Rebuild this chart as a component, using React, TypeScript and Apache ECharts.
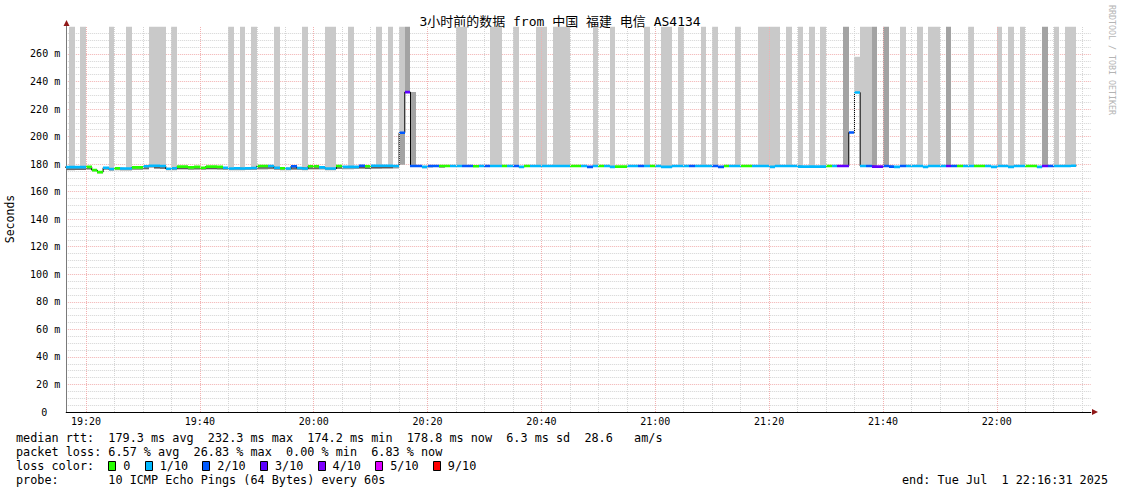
import React, { useEffect, useRef } from "react";
import * as echarts from "echarts";

// ---------- data ----------
const TITLE = "3小时前的数据 from 中国 福建 电信 AS4134";
const GRAPH_START = "19:16:31";
const GRAPH_END = "22:16:31";
const FIRST_BIN = "19:16"; // one value per minute from here

// median RTT (ms) per minute, 19:16 .. 22:13
const medianMs = [
  177.8, 177.8, 177.8, 177.8, 178.0, 175.6, 174.2, 177.4, 176.4, 177.0,
  176.8, 176.8, 177.6, 177.6, 178.4, 178.8, 178.8, 178.6, 176.6, 177.0,
  178.2, 178.2, 177.6, 178.0, 177.4, 178.2, 178.2, 178.0, 177.4, 176.8,
  177.0, 176.8, 177.0, 177.2, 178.6, 178.6, 178.6, 177.4, 177.0, 176.8,
  178.4, 177.2, 176.8, 178.4, 178.4, 177.6, 176.8, 176.8, 178.6, 178.0,
  178.0, 178.0, 178.8, 178.4, 178.8, 178.8, 178.8, 178.8, 178.6, 202.8,
  232.3, 178.6, 178.6, 178.0, 178.6, 178.6, 178.6, 178.6, 178.6, 178.6,
  178.6, 178.6, 178.4, 178.6, 178.6, 178.6, 178.6, 178.6, 178.6, 178.6,
  178.0, 178.6, 178.6, 178.6, 178.6, 178.6, 178.6, 178.6, 178.6, 178.6,
  178.6, 178.6, 178.0, 178.6, 178.6, 178.6, 178.0, 178.2, 178.2, 178.6,
  178.6, 178.6, 178.6, 178.6, 178.6, 178.0, 178.0, 178.6, 178.6, 178.6,
  178.6, 178.6, 178.6, 178.6, 178.6, 178.0, 178.6, 178.6, 178.6, 178.6,
  178.6, 178.6, 178.6, 178.6, 178.0, 178.6, 178.6, 178.6, 178.6, 178.2,
  178.2, 178.2, 178.2, 178.2, 178.6, 178.6, 178.6, 178.6, 203.0, 232.0,
  178.6, 178.6, 178.2, 178.2, 178.6, 178.2, 178.0, 178.6, 178.6, 178.6,
  178.6, 178.0, 178.6, 178.6, 178.6, 178.6, 178.6, 178.6, 178.6, 178.6,
  178.6, 178.6, 178.6, 178.0, 178.6, 178.6, 178.0, 178.6, 178.6, 178.6,
  178.6, 178.0, 178.6, 178.6, 178.6, 178.6, 178.6, 178.8,
];

// lost pings out of 10, per minute, 19:16 .. 22:13
const lossTenths = [
  1, 1, 1, 1, 0, 0, 0, 1, 1, 0,
  1, 1, 0, 0, 1, 1, 1, 1, 1, 1,
  0, 0, 0, 0, 0, 0, 0, 0, 1, 1,
  1, 1, 1, 1, 0, 0, 1, 1, 0, 1,
  2, 1, 1, 0, 0, 1, 1, 1, 0, 1,
  1, 1, 2, 0, 1, 1, 1, 1, 1, 2,
  3, 2, 2, 1, 2, 2, 0, 0, 1, 1,
  2, 2, 0, 1, 2, 1, 1, 0, 1, 2,
  1, 0, 1, 1, 1, 1, 1, 1, 1, 0,
  0, 1, 2, 1, 0, 1, 1, 0, 0, 1,
  1, 2, 1, 0, 1, 1, 1, 1, 1, 1,
  2, 1, 1, 1, 2, 2, 0, 1, 1, 0,
  0, 1, 1, 1, 1, 1, 1, 1, 1, 1,
  1, 1, 1, 1, 0, 1, 3, 3, 2, 1,
  1, 2, 3, 3, 2, 2, 1, 2, 1, 1,
  1, 1, 1, 1, 1, 3, 2, 0, 1, 1,
  0, 0, 1, 1, 1, 1, 1, 1, 1, 0,
  0, 1, 3, 2, 1, 1, 1, 1,
];

// lowest ping (ms) per minute, 19:16 .. 20:14 (smoke under the median)
const lowPingMs = [
  175.6, 175.6, 175.8, 175.8, 176.0, 174.8, 173.4, 175.8, 175.2, 175.6,
  175.4, 175.4, 175.8, 175.8, 176.0, 177.4, 176.6, 176.4, 175.6, 175.6,
  176.0, 176.0, 175.8, 176.0, 175.8, 176.0, 176.0, 176.0, 175.8, 175.6,
  175.6, 175.6, 175.8, 175.8, 176.0, 176.0, 176.2, 175.8, 175.6, 175.6,
  175.8, 175.8, 175.6, 176.0, 176.0, 176.0, 175.6, 175.6, 176.4, 176.2,
  176.2, 176.4, 176.6, 176.4, 176.6, 176.6, 176.8, 176.8, 176.8,
];

// minutes where one ping was off the top of the scale (light smoke to the top)
const offscaleOne = [
  "19:17", "19:19", "19:24", "19:27", "19:31", "19:32", "19:33", "19:35",
  "19:45", "19:47", "19:49", "19:53", "19:58", "20:02", "20:03", "20:06",
  "20:11", "20:13", "20:15", "20:25", "20:26", "20:31", "20:32", "20:35",
  "20:39", "20:40", "20:42", "20:43", "20:44", "20:49", "20:52", "20:58",
  "21:01", "21:02", "21:04", "21:08", "21:10", "21:14", "21:18", "21:19",
  "21:20", "21:21", "21:23", "21:25", "21:27", "21:29", "21:36", "21:37",
  "21:43", "21:46", "21:48", "21:49", "21:55", "22:00", "22:02", "22:04",
  "22:10", "22:12", "22:13",
];
// minutes where two pings were off the top of the scale (darker smoke)
const offscaleTwo = ["20:16", "21:33", "21:38", "21:40", "21:51", "22:08"];

// other smoke: [minute, from ms, to ms, shade 1 light / 2 medium]
const extraSmoke: [string, number, number, number][] = [
  ["20:15", 179.6, 202.8, 2],
  ["20:17", 178.6, 232.3, 2],
  ["20:19", 177.0, 178.0, 2],
  ["20:20", 177.6, 178.6, 2],
  ["20:22", 177.2, 178.6, 2],
  ["21:35", 232.0, 258.0, 1],
];

const Y_MAX = 280;
const Y_STEP = 20;
const xLabelTimes = ["19:20", "19:40", "20:00", "20:20", "20:40", "21:00", "21:20", "21:40", "22:00"];

const lossLabels = ["0", "1/10", "2/10", "3/10", "4/10", "5/10", "9/10"];
const lossLabelTenths = [0, 1, 2, 3, 4, 5, 9];
const lossColors = ["#26ff00", "#00b8ff", "#0059ff", "#5e00ff", "#7e00ff", "#dd00ff", "#ff0000"];

const statLines = [
  "median rtt:  179.3 ms avg  232.3 ms max  174.2 ms min  178.8 ms now  6.3 ms sd  28.6   am/s",
  "packet loss: 6.57 % avg  26.83 % max  0.00 % min  6.83 % now",
];
const lossLineLabel = "loss color:";
const probeLine = "probe:       10 ICMP Echo Pings (64 Bytes) every 60s";
const endLine = "end: Tue Jul  1 22:16:31 2025";
const creditText = "RRDTOOL / TOBI OETIKER";
const yName = "Seconds";

// ---------- helpers ----------
const FONT = "'DejaVu Sans Mono', 'Liberation Mono', monospace";
const TITLE_FONT = "'DejaVu Sans Mono', 'Noto Sans CJK SC', monospace";
const toMin = (s: string) => {
  const p = s.split(":").map(Number);
  return (p[0] - 19) * 60 + p[1] + (p[2] || 0) / 60;
};
const fmtMin = (v: number) => {
  const h = 19 + Math.floor(v / 60);
  const m = Math.round(v % 60);
  return `${h}:${m < 10 ? "0" : ""}${m}`;
};
const lossColor = (n: number) => {
  const idx = lossLabelTenths.indexOf(n);
  return lossColors[idx >= 0 ? idx : 0];
};
const SHADES: Record<number, string> = { 1: "#c9c9c9", 2: "#a3a3a3", 3: "#9d9d9d" };

const T0 = toMin(FIRST_BIN);
const medianAt = (t: string) => medianMs[Math.round(toMin(t) - T0)];

function monoRuns(str: string) {
  const out: { col: number; text: string }[] = [];
  const re = /\S+(?: \S+)*/g;
  let m: RegExpExecArray | null;
  while ((m = re.exec(str))) out.push({ col: m.index, text: m[0] });
  return out;
}

export default function App() {
  const ref = useRef<HTMLDivElement>(null);

  useEffect(() => {
    if (!ref.current) return;
    const chart = echarts.init(ref.current, undefined, { renderer: "svg" });

    // smoke items: [t0, t1, lo, hi, shade]
    const smoke: number[][] = [];
    offscaleOne.forEach((t) => smoke.push([toMin(t), toMin(t) + 1, medianAt(t), Y_MAX, 1]));
    offscaleTwo.forEach((t) => smoke.push([toMin(t), toMin(t) + 1, medianAt(t), Y_MAX, 2]));
    extraSmoke.forEach(([t, lo, hi, s]) => smoke.push([toMin(t), toMin(t) + 1, lo, hi, s]));
    lowPingMs.forEach((lo, i) => smoke.push([T0 + i, T0 + i + 1, lo, medianMs[i], 3]));

    const medianItems = medianMs.map((v, i) => [T0 + i, T0 + i + 1, v, lossTenths[i]]);
    const stepPts = medianMs.map((v, i) => [T0 + i, v]);
    stepPts.push([T0 + medianMs.length, medianMs[medianMs.length - 1]]);

    const xMin = toMin(GRAPH_START);
    const xMax = toMin(GRAPH_END);
    const gridMarks: any[] = [];
    for (let v = Math.ceil(xMin / 5) * 5; v < xMax; v += 5) {
      gridMarks.push({
        xAxis: v,
        lineStyle: { color: v % 20 === 0 ? "#f2b0b0" : "#d4d4d4", type: [1, 1], width: 1 },
      });
    }

    const CW = 11.8 * 0.6021;
    const X0 = 16;
    const graphic: any[] = [];
    const txt = (text: string, x: number, y: number, extra: any = {}) => ({
      type: "text",
      x,
      y,
      silent: true,
      style: {
        text,
        fontFamily: FONT,
        fontSize: 11.8,
        fill: "#000",
        textAlign: "left",
        align: "left",
        textVerticalAlign: "middle",
        verticalAlign: "middle",
        ...extra,
      },
    });
    const monoLine = (str: string, x0: number, y: number) =>
      monoRuns(str).forEach((r) => graphic.push(txt(r.text, x0 + r.col * CW, y)));

    graphic.push(
      txt(TITLE, 560, 21.5, { fontFamily: TITLE_FONT, fontSize: 13, textAlign: "center", align: "center" })
    );
    graphic.push({
      ...txt(yName, 10, 219, { fontSize: 11.5, textAlign: "center", align: "center" }),
      rotation: Math.PI / 2,
    });
    graphic.push({
      ...txt(creditText, 1111.5, 5, { fontSize: 8.3, fill: "#b4b4b4" }),
      rotation: -Math.PI / 2,
    });
    monoLine(statLines[0], X0, 438);
    monoLine(statLines[1], X0, 452);
    monoLine(lossLineLabel, X0, 466);
    let cursor = X0 + 13 * CW;
    lossLabels.forEach((lab, i) => {
      graphic.push({
        type: "rect",
        silent: true,
        shape: { x: Math.round(cursor) + 0.5, y: 461.5, width: 7, height: 9 },
        style: { fill: lossColors[i], stroke: "#000", lineWidth: 1 },
      });
      const tx = cursor + 15;
      graphic.push(txt(lab, tx, 466));
      cursor = tx + (lab.length + 2) * CW;
    });
    monoLine(probeLine, X0, 480);
    monoLine(endLine, 902, 480);
    // axis arrows
    graphic.push({
      type: "polygon",
      silent: true,
      shape: { points: [[63.5, 26], [69.5, 26], [66.5, 20]] },
      style: { fill: "#901818" },
    });
    graphic.push({
      type: "polygon",
      silent: true,
      shape: { points: [[1092, 409], [1092, 415], [1098, 412]] },
      style: { fill: "#901818" },
    });

    chart.setOption({
      animation: false,
      backgroundColor: "#ffffff",
      grid: {
        left: 66.2,
        right: 30.2,
        top: 26.4,
        bottom: 82,
        containLabel: false,
        outerBoundsMode: "none",
      },
      xAxis: {
        type: "value",
        min: xMin,
        max: xMax,
        axisLine: { show: true, onZero: false, lineStyle: { color: "#000", width: 1 } },
        axisTick: { show: false },
        axisLabel: {
          customValues: xLabelTimes.map(toMin),
          formatter: (v: number) => fmtMin(v),
          fontFamily: FONT,
          fontSize: 10,
          color: "#000",
          margin: 4,
        },
        splitLine: { show: false },
      },
      yAxis: {
        type: "value",
        min: 0,
        max: Y_MAX,
        interval: Y_STEP,
        axisLine: { show: true, lineStyle: { color: "#7a7a7a", width: 1 } },
        axisTick: { show: false },
        axisLabel: {
          formatter: (v: number) => (v === 0 ? "{z|0}" : v === Y_MAX ? "" : `${v} m`),
          rich: { z: { padding: [0, 13, 0, 0], fontFamily: FONT, fontSize: 10, color: "#000" } },
          fontFamily: FONT,
          fontSize: 10,
          color: "#000",
          margin: 6,
        },
        splitLine: {
          show: true,
          showMaxLine: false,
          lineStyle: { color: "#f2b0b0", type: [1, 1], width: 1 },
        },
        minorTick: { show: false, splitNumber: 4 },
        minorSplitLine: { show: true, lineStyle: { color: "#d4d4d4", type: [1, 1], width: 1 } },
      },
      graphic,
      series: [
        {
          type: "line",
          data: [],
          z: 1,
          silent: true,
          markLine: {
            silent: true,
            symbol: ["none", "none"],
            label: { show: false },
            animation: false,
            data: gridMarks,
          },
        },
        {
          type: "custom",
          z: 2,
          clip: true,
          silent: true,
          encode: { x: [0, 1], y: [2, 3] },
          data: smoke,
          renderItem: (_p: any, api: any) => {
            const t0 = api.value(0), t1 = api.value(1), lo = api.value(2), hi = api.value(3), sh = api.value(4);
            const pLo = api.coord([t0, lo]);
            const pHi = api.coord([t1, hi]);
            const x = Math.round(pLo[0]);
            const w = Math.round(pHi[0]) - x;
            const y = pHi[1], h = pLo[1] - pHi[1];
            const children: any[] = [
              { type: "rect", shape: { x, y, width: w, height: h }, style: { fill: SHADES[sh] } },
            ];
            if (sh === 3 && h > 2.5) {
              children.push({
                type: "rect",
                shape: { x, y: pHi[1] + 1.3, width: w, height: 1.2 },
                style: { fill: "#5c5c5c" },
              });
            }
            return { type: "group", children };
          },
        },
        {
          type: "line",
          z: 3,
          silent: true,
          step: "end",
          showSymbol: false,
          symbol: "none",
          data: stepPts,
          lineStyle: { color: "#000", width: 1 },
        },
        {
          type: "custom",
          z: 4,
          clip: true,
          silent: true,
          encode: { x: [0, 1], y: 2 },
          data: medianItems,
          renderItem: (_p: any, api: any) => {
            const p0 = api.coord([api.value(0), api.value(2)]);
            const p1 = api.coord([api.value(1), api.value(2)]);
            const x = Math.round(p0[0]);
            return {
              type: "rect",
              shape: { x, y: p0[1] - 1.3, width: Math.round(p1[0]) - x, height: 2.6 },
              style: { fill: lossColor(api.value(3)) },
            };
          },
        },
      ],
    });

    return () => chart.dispose();
  }, []);

  return (
    <div
      ref={ref}
      style={{ position: "absolute", left: 0, top: 0, width: 1121, height: 494, background: "#fff" }}
    />
  );
}
